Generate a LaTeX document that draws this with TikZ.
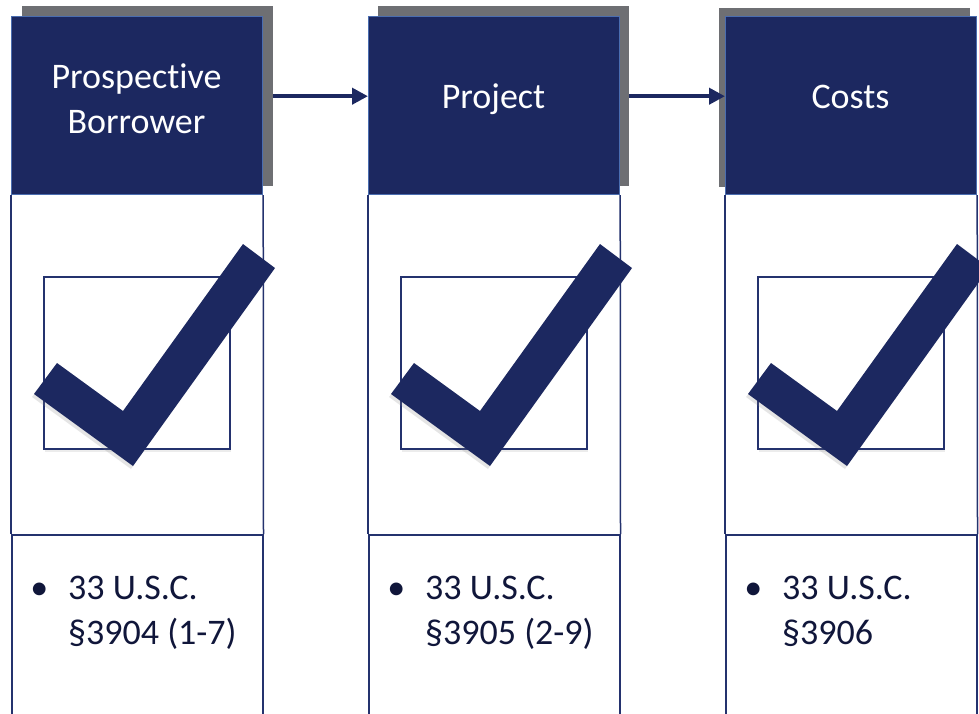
\documentclass[tikz,border=0pt]{standalone}
\usepackage{fontspec}
\setmainfont{Carlito}[Ligatures=NoCommon]
\usetikzlibrary{arrows.meta,shadows}
\definecolor{navy}{HTML}{1C2860}
\definecolor{edge}{HTML}{4A6DB0}
\definecolor{shade}{HTML}{6E6F73}
\definecolor{ink}{HTML}{10163A}
\definecolor{rule}{HTML}{24326E}
\begin{document}
\begin{tikzpicture}[x=1pt,y=-1pt,
  shadowbox/.style={fill=shade, draw=none, inner sep=0, anchor=north west},
  header/.style={fill=navy, draw=edge, line width=1.2pt, inner sep=0, anchor=north west,
    minimum width=251pt, minimum height=178pt},
  htext/.style={text=white, font=\fontsize{36}{45}\selectfont, inner sep=0, anchor=base, align=center},
  rulel/.style={draw=rule, line width=1.5pt},
  lowbox/.style={draw=rule, line width=1.5pt, fill=white, inner sep=0, anchor=north west,
    minimum width=251pt, minimum height=200pt,
    drop shadow={opacity=0.12, shadow xshift=0pt, shadow yshift=-4pt}},
  sqbox/.style={draw=rule, line width=1.5pt, fill=white, inner sep=0, anchor=north west,
    minimum width=186pt, minimum height=172pt,
    drop shadow={opacity=0.15, shadow xshift=1pt, shadow yshift=-3pt}},
  btext/.style={text=ink, font=\fontsize{36}{45}\selectfont, inner sep=0, anchor=base west, align=left},
  arr/.style={draw=navy, line width=4pt, -{Triangle[length=16pt,width=16pt]}},
  checkmark/.style={fill=navy, drop shadow={opacity=0.2, shadow xshift=-2pt, shadow yshift=-3pt}}
]
\clip (0,0) rectangle (979,713);
\fill[white] (0,0) rectangle (979,713);
% shadows behind headers
\node[shadowbox, minimum width=251pt, minimum height=180pt] (s1) at (22,6) {};
\node[shadowbox, minimum width=251pt, minimum height=180pt] (s2) at (378,6) {};
\node[shadowbox, minimum width=251pt, minimum height=179pt] (s3) at (719,8) {};
% headers
\node[header] (h1) at (11,16) {};
\node[header] (h2) at (368,16) {};
\node[header] (h3) at (725,16) {};
\node[htext] (t1) at (136.5,133) {Prospective\\Borrower};
\node[htext] (t2) at (493.5,108) {Project};
\node[htext] (t3) at (850.5,108) {Costs};
% arrows
\draw[arr] (s1.east) -- (s1.east -| h2.west);
\draw[arr] (s2.east) -- (s2.east -| h3.west);
% lower boxes
\node[lowbox] (b1) at (11,534) {};
\node[lowbox] (b2) at (368,534) {};
\node[lowbox] (b3) at (725,534) {};
% column sides
\foreach \n in {1,2,3}{
  \draw[rulel] (h\n.south west) -- (b\n.north west);
  \draw[rulel] (h\n.south east) -- (b\n.north east);
}
% check squares
\node[sqbox] (c1) at (43,276) {};
\node[sqbox] (c2) at (400,276) {};
\node[sqbox] (c3) at (757,276) {};
% checkmarks
\foreach \dx in {0,357,714}{
  \fill[checkmark] (34+\dx,394) -- (133+\dx,466) -- (275+\dx,268) -- (243+\dx,244)
    -- (123+\dx,411) -- (57+\dx,363) -- cycle;
}
% bullet texts
\node[btext] (l1) at (68,644) {\llap{•\hspace{20pt}}33 U.S.C.\\§3904 (1-7)};
\node[btext] (l2) at (425,644) {\llap{•\hspace{20pt}}33 U.S.C.\\§3905 (2-9)};
\node[btext] (l3) at (782,644) {\llap{•\hspace{20pt}}33 U.S.C.\\§3906};
\end{tikzpicture}
\end{document}
